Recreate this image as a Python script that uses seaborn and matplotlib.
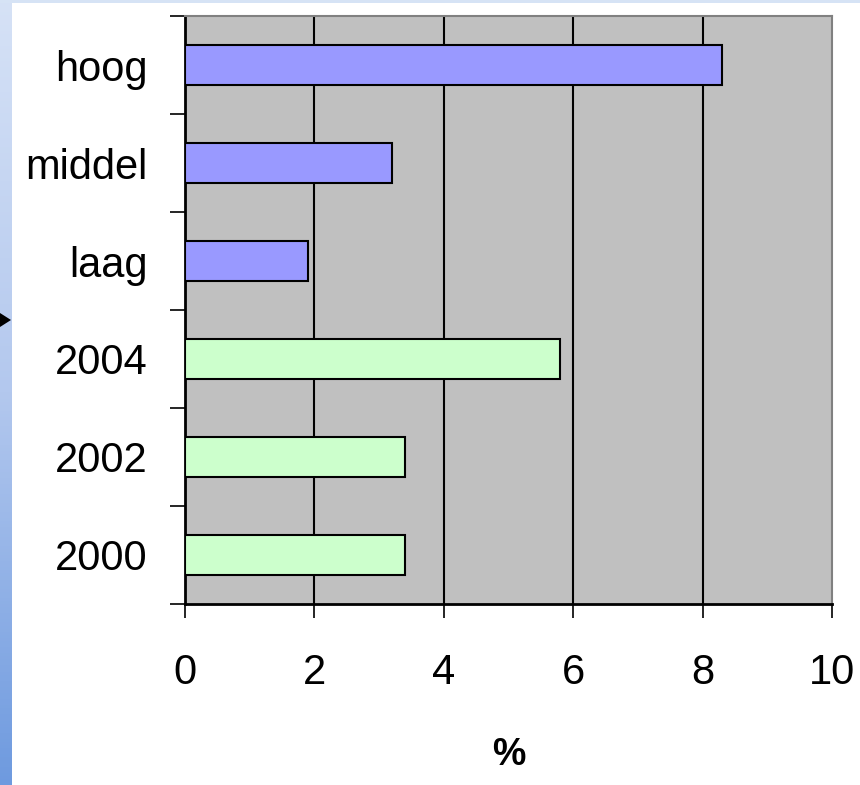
import numpy as np
import pandas as pd
import matplotlib
matplotlib.use("Agg")
import matplotlib.pyplot as plt
import seaborn as sns
from matplotlib.patches import Rectangle, Polygon
from matplotlib.colors import LinearSegmentedColormap

categories = ["hoog", "middel", "laag", "2004", "2002", "2000"]
values = [8.3, 3.2, 1.9, 5.8, 3.4, 3.4]
groups = ["niveau", "niveau", "niveau", "jaar", "jaar", "jaar"]
group_colors = {"niveau": "#9999FF", "jaar": "#CCFFCC"}
x_ticks = [0, 2, 4, 6, 8, 10]
x_label = "%"

df = pd.DataFrame({"cat": categories, "val": values, "grp": groups})

sns.set_theme(style="white")
plt.rcParams["font.family"] = ["Liberation Sans", "DejaVu Sans"]

W, H = 860, 785
fig = plt.figure(figsize=(W / 100, H / 100), dpi=100)
fig.patch.set_facecolor("white")

# decorative background strips
fig.patches.append(Rectangle((0, 1 - 3 / H), 1, 3 / H, transform=fig.transFigure,
                             facecolor="#D6E3F5", edgecolor="none", zorder=0))
gax = fig.add_axes([0, 0, 12 / W, 1])
grad = np.linspace(0, 1, 256).reshape(-1, 1)
cmap = LinearSegmentedColormap.from_list("g", ["#D6E2F6", "#B3C8EE", "#6E9ADF"])
gax.imshow(grad, aspect="auto", cmap=cmap, extent=[0, 1, 0, 1], origin="upper")
gax.set_axis_off()
fig.patches.append(Polygon([(0, 1 - 313 / H), (11 / W, 1 - 320 / H), (0, 1 - 327 / H)],
                           closed=True, transform=fig.transFigure,
                           facecolor="black", edgecolor="none", zorder=5))

ax = fig.add_axes([185 / W, 1 - 604 / H, 647 / W, 588 / H])
ax.set_facecolor("#C0C0C0")

sns.barplot(data=df, x="val", y="cat", hue="grp", palette=group_colors,
            orient="h", width=0.4, dodge=False, legend=False, saturation=1,
            edgecolor="black", linewidth=1.5, ax=ax, zorder=3)

ax.set_xlim(0, 10)
ax.set_ylim(len(categories) - 0.5, -0.5)
ax.set_xticks(x_ticks)
ax.set_xticklabels([str(t) for t in x_ticks])
for t in x_ticks[1:-1]:
    ax.axvline(t, color="black", linewidth=1.5, zorder=1)

ax.set_yticks(range(len(categories)))
ax.set_yticklabels(categories, va="center_baseline")
ax.set_yticks(np.arange(-0.5, len(categories)), minor=True)
ax.tick_params(axis="y", which="major", length=0, pad=27, labelsize=30, colors="black")
ax.tick_params(axis="y", which="minor", left=True, length=11, width=1.2, color="black", direction="out")
ax.tick_params(axis="x", which="major", bottom=True, length=10, width=1.2, color="black",
               direction="out", pad=25, labelsize=30, labelcolor="black")

ax.set_xlabel(x_label, fontsize=27, fontweight="bold", labelpad=32, color="black")
ax.set_ylabel("")

for side in ["left", "bottom"]:
    ax.spines[side].set_color("black")
    ax.spines[side].set_linewidth(2)
for side in ["top", "right"]:
    ax.spines[side].set_color("#808080")
    ax.spines[side].set_linewidth(1.5)
    ax.spines[side].set_visible(True)

fig.savefig("out.png", dpi=100)
